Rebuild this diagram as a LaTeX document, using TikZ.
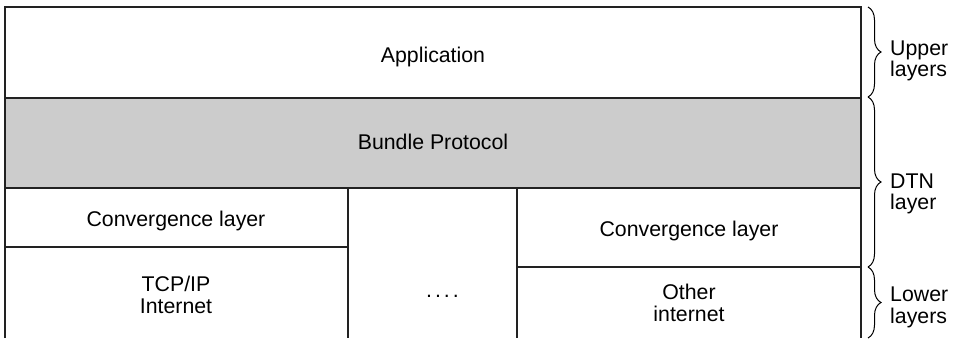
\documentclass[tikz,border=0pt]{standalone}
\usepackage{fontspec}
\setmainfont{Liberation Sans}
\usetikzlibrary{decorations.pathreplacing}
\definecolor{bpgray}{HTML}{CCCCCC}
\definecolor{edge}{HTML}{222222}
\begin{document}
\begin{tikzpicture}[x=1pt,y=-1pt,
  edgeline/.style={draw=edge,line width=1.5pt},
  lbl/.style={font=\fontsize{21.3}{22}\selectfont,align=center,inner sep=0pt},
  side/.style={font=\fontsize{21.3}{21.5}\selectfont,align=left,anchor=west,inner sep=0pt},
  bracestyle/.style={draw=black,line width=1pt,decorate,decoration={brace,amplitude=13pt}}]
\useasboundingbox (0,0) rectangle (953,338);
% fill
\fill[bpgray] (5,98) rectangle (861,188);
% outlines
\draw[edgeline] (5,338) -- (5,7) -- (861,7) -- (861,338);
\draw[edgeline] (5,98) -- (861,98);
\draw[edgeline] (5,188) -- (861,188);
\draw[edgeline] (348,188) -- (348,338);
\draw[edgeline] (517,188) -- (517,338);
\draw[edgeline] (5,247) -- (348,247);
\draw[edgeline] (517,267) -- (861,267);
% labels
\node[lbl,anchor=base] (app) at (433,62) {Application};
\node[lbl,anchor=base] (bp) at (433,149.5) {Bundle Protocol};
\node[lbl,anchor=base] (cl1) at (176,226) {Convergence layer};
\node[lbl] (tcp) at (176,295) {TCP/IP\\Internet};
\node[lbl,anchor=base] (dots) at (442.5,297) {.\kern3pt.\kern3pt.\kern3pt.};
\node[lbl,anchor=base] (cl2) at (689,236) {Convergence layer};
\node[lbl] (oth) at (689,303) {Other\\internet};
% braces
\coordinate (u1) at (868,7);
\coordinate (u2) at (868,97);
\coordinate (d2) at (868,267);
\coordinate (l2) at (868,338);
\draw[bracestyle] (u1) -- (u2);
\draw[bracestyle] (u2) -- (d2);
\draw[bracestyle] (d2) -- (l2);
\node[side] (upper) at (890,61) {Upper\\layers};
\node[side] (dtn) at (890,194) {DTN\\layer};
\node[side] (lower) at (890,307.5) {Lower\\layers};
\end{tikzpicture}
\end{document}
